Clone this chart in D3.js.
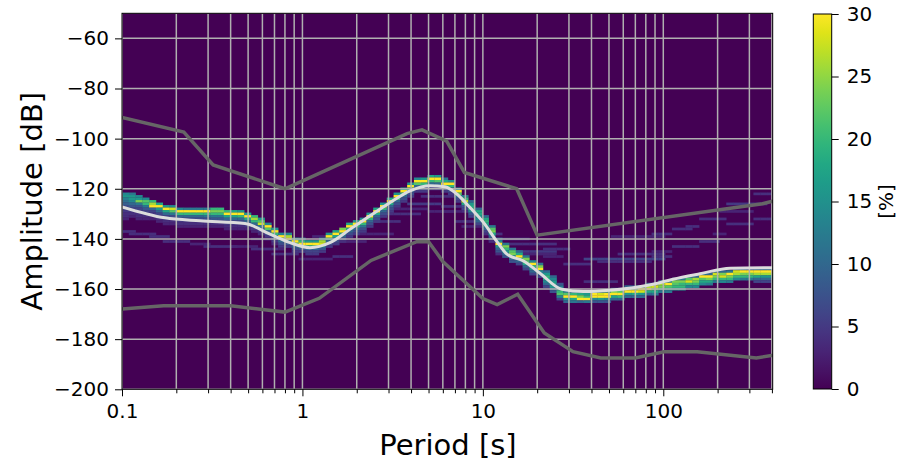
<!DOCTYPE html>
<html>
<head>
<meta charset="utf-8">
<script src="https://cdn.jsdelivr.net/npm/d3@7"></script>
<style>
  body { margin: 0; background: #fff; }
  text { font-family: "DejaVu Sans", sans-serif; }
</style>
</head>
<body>
<script>
// period bins are 1/8 octave wide, starting at 0.1 s; dB bins are 1 dB
// top dB of the main band in each period bin, and its percentages going down
const bandTop = [
  -122,-122,-123,-124,-125,-126,-127,-127,-128,-128,-128,-128,-128,-128,-128,-129,
  -129,-129,-130,-131,-132,-134,-136,-138,-138,-140,-140,-141,-141,-140,-138,-137,
  -136,-134,-133,-132,-130,-128,-126,-124,-122,-120,-118,-116,-116,-115,-115,-116,
  -117,-120,-123,-125,-128,-131,-135,-140,-142,-144,-145,-147,-149,-150,-153,-155,
  -158,-161,-161,-161,-161,-161,-161,-161,-160,-160,-159,-159,-159,-158,-158,-157,
  -157,-156,-156,-155,-155,-154,-154,-153,-153,-153,-152,-152,-152,-152,-152,-152
];
const bandPct = [
  [14,16,13,11,9,7,6,5,4,4,3], [12,16,16,14,10,8,6,5,4,3], [14,16,24,12,8,6,5,4,4,3],
  [14,22,20,12,8,6,5,4,3], [20,26,31,10,6,5,4,3], [18,31,16,10,6,5,4,3],
  [16,32,18,10,6,5,4,3], [14,28,22,12,7,5,4,3], [14,32,20,10,7,5,4,3],
  [12,33,20,10,7,5,4,3], [12,33,20,10,7,5,4,3], [12,33,20,10,7,5,4,3],
  [12,30,20,12,7,5,4,3], [20,24,20,12,8,6,4,3], [20,24,20,12,8,6,4,3],
  [20,30,18,10,7,5,4,3], [18,31,18,10,7,5,4,3], [16,32,20,10,7,5,4,3],
  [16,32,18,10,7,5,3], [20,26,20,10,7,5,3], [16,22,28,12,8,5,3],
  [14,32,22,10,7,5,3], [16,33,20,10,7,5,3], [14,34,20,10,7,5,3],
  [14,26,30,14,8,5], [16,34,20,10,7,5], [12,20,34,18,8,5],
  [16,34,20,10,6,5], [16,34,22,10,6,5], [14,26,28,14,8,5],
  [16,34,18,10,7,5], [18,34,18,10,7,5], [24,34,16,10,6,4],
  [18,34,18,10,7,5], [16,34,20,10,7,5], [14,34,20,12,7,5],
  [16,34,20,10,7,5], [18,34,18,10,7,5], [16,34,20,10,7,5],
  [18,34,18,10,7,5], [16,34,20,10,7,5], [18,34,18,10,7,5],
  [16,34,20,10,7,5], [14,34,22,10,7,5], [16,34,20,10,7,5],
  [18,34,20,10,7,5], [16,34,22,10,7,5], [12,18,34,16,8,5],
  [14,34,20,10,7,5], [16,30,22,12,7,5], [12,20,28,18,8,6,4],
  [10,16,18,20,14,8,6], [10,18,18,16,14,10,6], [10,18,20,18,14,10,6],
  [12,22,24,18,10,8,4], [10,14,34,16,10,8,4], [12,24,20,16,10,8],
  [12,22,24,16,10,8], [10,18,32,18,10,6], [12,24,22,18,10,6],
  [14,30,20,16,10,6], [12,24,30,14,10,6], [10,16,20,18,14,10,6],
  [10,14,16,18,16,12,8], [8,12,16,20,22,14,6], [12,22,34,16,10],
  [10,20,34,18,12], [8,18,24,34,10], [10,16,20,34,12],
  [12,30,34,14,8], [10,28,34,16,8], [12,30,32,14,8],
  [10,24,34,18,10], [8,22,34,20,10], [10,26,34,16,10],
  [8,24,34,18,10], [12,30,28,16,10], [10,26,32,18,10],
  [12,28,24,18,12], [10,26,24,20,12], [12,32,22,18,12],
  [10,24,22,20,16], [12,24,20,20,16], [10,22,28,20,14],
  [10,26,24,20,14], [12,32,22,18,14], [10,32,24,18,12],
  [10,28,24,20,12], [10,24,28,20,14], [12,30,24,20,12],
  [8,28,26,20,14], [10,30,24,20,12], [8,32,24,20,12],
  [10,32,26,18,10,6], [10,34,26,16,10,6], [10,34,26,16,10,6]
];
// faint streaks: [first bin, last bin, dB, percent]
const faint = [
  [0,1,-137,4],[1,4,-138,4],[4,6,-139,4],[6,9,-141,4],[10,12,-142,3],[12,16,-143,4],
  [16,19,-143,3],[19,22,-144,4],[22,25,-146,4],[26,30,-148,3],[31,33,-147,4],
  [19,26,-140,3],[28,31,-139,3],
  [35,39,-138,3],[37,40,-133,4],[39,43,-130,4],[42,46,-126,5],[44,49,-123,4],
  [32,35,-141,3],[40,44,-128,3],[45,48,-129,3],
  [47,49,-127,4],[47,49,-129,3],[49,52,-133,4],[50,52,-135,3],[53,55,-138,4],
  [55,59,-140,4],[57,63,-142,4],[58,63,-145,5],[59,63,-146,3],
  [62,65,-144,4],[62,64,-147,3],[65,68,-150,4],[68,79,-148,6],[70,77,-149,4],
  [73,79,-146,4],[68,72,-157,4],[72,79,-139,3],
  [93,95,-122,4],[89,94,-126,5],[89,92,-134,4],[93,95,-132,4],[85,88,-132,4],
  [87,88,-138,3],[83,84,-135,4],[81,83,-136,4],[78,80,-138,4],[78,80,-145,3],
  [78,80,-147,4],[81,84,-143,4],[85,87,-141,4],[88,92,-129,3]
];

// mean curve
const meanPeriod = [0.1,0.173,0.271,0.481,0.661,0.854,1.10,1.42,1.84,2.37,3.06,3.95,5.10,6.17,
  7.17,8.49,10.1,11.9,13.6,16.8,20.8,27.4,36.1,50.7,68.0,87.8,113,160,235,405];
const meanDb = [-127.2,-131.6,-132.8,-133.9,-138.1,-141.5,-143.5,-141.5,-136.1,-130.8,-125.5,-120.8,-118.8,-119.2,
  -122.1,-127.5,-133.5,-140.8,-146.1,-148.8,-153.8,-160.1,-161,-160.5,-159.5,-158.1,-156.1,-153.9,-151.7,-151.5];

// noise models
const nhnmPeriod = [0.1,0.22,0.32,0.8,3.8,4.6,6.3,7.9,15.4,20,354.8,100000];
const nhnmDb = [-91.5,-97.4,-110.5,-120,-98,-96.5,-101,-113.5,-120,-138.5,-126,-80.1];
const nlnmPeriod = [0.1,0.17,0.4,0.8,1.24,2.4,4.3,5,6,10,12,15.6,21.9,31.6,45,70,101,154,328,600];
const nlnmDb = [-168,-166.7,-166.7,-169.2,-163.7,-148.6,-141.1,-141.1,-149,-163.8,-166.2,-162.1,-177.5,-185,-187.5,-187.5,-185,-185,-187.5,-184.4];

const yTicks = [-200,-180,-160,-140,-120,-100,-80,-60];
const xMajor = [0.1,1,10,100];
const xLabels = ["0.1","1","10","100"];
const cbTicks = [0,5,10,15,20,25,30];

const W = 901, H = 462;
const pLeft = 122, pRight = 772.7, pTop = 13.3, pBottom = 389.3;

const x = d3.scaleLog().domain([0.1, 404]).range([pLeft, pRight]);
const y = d3.scaleLinear().domain([-200, -50]).range([pBottom, pTop]);
const color = d3.scaleSequential(d3.interpolateViridis).domain([0, 30]).clamp(true);
const step = Math.log10(2) / 8;
const edge = k => Math.pow(10, -1 + k * step);

const svg = d3.select("body").append("svg")
  .attr("width", W).attr("height", H);

svg.append("clipPath").attr("id", "plot")
  .append("rect").attr("x", pLeft).attr("y", pTop)
  .attr("width", pRight - pLeft).attr("height", pBottom - pTop);

const g = svg.append("g").attr("clip-path", "url(#plot)");

g.append("rect").attr("x", pLeft).attr("y", pTop)
  .attr("width", pRight - pLeft).attr("height", pBottom - pTop)
  .attr("fill", color(0));

// build cells
let cells = [];
faint.forEach(function(f) {
  for (let k = f[0]; k <= f[1]; k++) cells.push({k: k, db: f[2], v: f[3]});
});
bandTop.forEach(function(t, k) {
  bandPct[k].forEach(function(v, j) { cells.push({k: k, db: t - j, v: v}); });
});

g.selectAll("rect.cell").data(cells).enter().append("rect")
  .attr("class", "cell")
  .attr("x", d => x(edge(d.k)))
  .attr("width", d => x(edge(d.k + 1)) - x(edge(d.k)) + 0.3)
  .attr("y", d => y(d.db + 0.5))
  .attr("height", d => y(d.db - 0.5) - y(d.db + 0.5) + 0.2)
  .attr("fill", d => color(d.v));

// grid
let xMinor = [];
[0.1, 1, 10, 100].forEach(function(dec) {
  for (let m = 1; m < 10; m++) if (dec * m <= 404) xMinor.push(dec * m);
});
g.selectAll("line.vg").data(xMinor).enter().append("line")
  .attr("x1", d => x(d)).attr("x2", d => x(d))
  .attr("y1", pTop).attr("y2", pBottom)
  .attr("stroke", "#b0b0b0").attr("stroke-width", 1.5);
g.selectAll("line.hg").data(yTicks).enter().append("line")
  .attr("y1", d => y(d)).attr("y2", d => y(d))
  .attr("x1", pLeft).attr("x2", pRight)
  .attr("stroke", "#b0b0b0").attr("stroke-width", 1.5);

// noise models
const modelLine = d3.line().x(d => x(d[0])).y(d => y(d[1]));
[[nhnmPeriod, nhnmDb], [nlnmPeriod, nlnmDb]].forEach(function(m) {
  g.append("path")
    .datum(m[0].map((p, i) => [p, m[1][i]]))
    .attr("d", modelLine)
    .attr("fill", "none").attr("stroke", "#666666").attr("stroke-width", 3.5);
});

// mean
g.append("path")
  .datum(meanPeriod.map((p, i) => [p, meanDb[i]]))
  .attr("d", d3.line().x(d => x(d[0])).y(d => y(d[1])).curve(d3.curveMonotoneX))
  .attr("fill", "none").attr("stroke", "#dcdcdc").attr("stroke-width", 3);

// frame
svg.append("rect").attr("x", pLeft).attr("y", pTop)
  .attr("width", pRight - pLeft).attr("height", pBottom - pTop)
  .attr("fill", "none").attr("stroke", "#000").attr("stroke-width", 1);

// axes
const xAxis = svg.append("g").attr("transform", `translate(0,${pBottom})`)
  .call(d3.axisBottom(x).tickValues(xMajor).tickFormat((d, i) => xLabels[i]).tickSize(7).tickPadding(8));
const xMin = svg.append("g").attr("transform", `translate(0,${pBottom})`)
  .call(d3.axisBottom(x).tickValues(xMinor.filter(v => xMajor.indexOf(v) < 0)).tickFormat("").tickSize(4));
const yAxis = svg.append("g").attr("transform", `translate(${pLeft},0)`)
  .call(d3.axisLeft(y).tickValues(yTicks).tickFormat(d => "\u2212" + Math.abs(d)).tickSize(7).tickPadding(6));
[xAxis, xMin, yAxis].forEach(a => {
  a.select(".domain").remove();
  a.selectAll("text").attr("font-size", 20).attr("fill", "#000").attr("font-family", "DejaVu Sans");
  a.selectAll("line").attr("stroke", "#000").attr("stroke-width", 1);
});

svg.append("text").attr("x", 448).attr("y", 455)
  .attr("text-anchor", "middle").attr("font-size", 29).text("Period [s]");
svg.append("text").attr("transform", `translate(42,${(pTop + pBottom) / 2}) rotate(-90)`)
  .attr("text-anchor", "middle").attr("font-size", 29).text("Amplitude [dB]");

// colorbar
const cbX = 813.3, cbW = 18.4;
const cy = d3.scaleLinear().domain([0, 30]).range([389, 14]);
const defs = svg.append("defs");
const grad = defs.append("linearGradient").attr("id", "vir")
  .attr("x1", 0).attr("y1", 1).attr("x2", 0).attr("y2", 0);
d3.range(0, 1.0001, 0.05).forEach(t => {
  grad.append("stop").attr("offset", t).attr("stop-color", d3.interpolateViridis(t));
});
svg.append("rect").attr("x", cbX).attr("y", cy(30)).attr("width", cbW)
  .attr("height", cy(0) - cy(30)).attr("fill", "url(#vir)")
  .attr("stroke", "#000").attr("stroke-width", 1);
const cAxis = svg.append("g").attr("transform", `translate(${cbX + cbW},0)`)
  .call(d3.axisRight(cy).tickValues(cbTicks).tickSize(7).tickPadding(8));
cAxis.select(".domain").remove();
cAxis.selectAll("text").attr("font-size", 20).attr("fill", "#000").attr("font-family", "DejaVu Sans");
cAxis.selectAll("line").attr("stroke", "#000");
svg.append("text").attr("transform", `translate(893,${(14 + 389) / 2}) rotate(-90)`)
  .attr("text-anchor", "middle").attr("font-size", 20).text("[%]");
</script>
</body>
</html>
